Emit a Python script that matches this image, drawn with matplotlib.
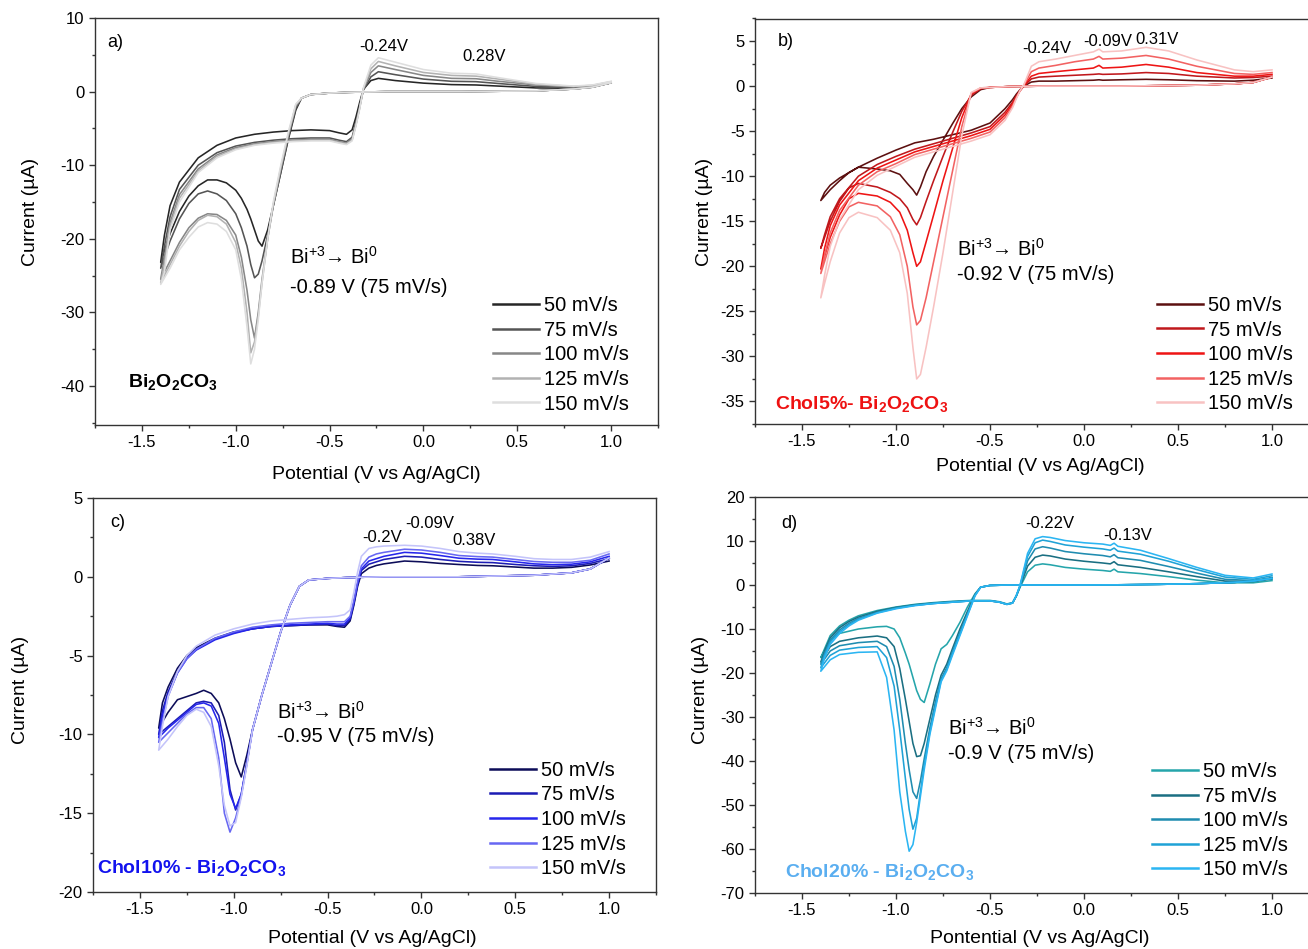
import matplotlib
matplotlib.use('Agg')
import matplotlib.pyplot as plt
from matplotlib.ticker import MultipleLocator
from matplotlib.lines import Line2D

plt.rcParams['font.family'] = ['Liberation Sans', 'DejaVu Sans']
plt.rcParams['mathtext.fontset'] = 'custom'
plt.rcParams['mathtext.rm'] = 'Liberation Sans'
plt.rcParams['mathtext.it'] = 'Liberation Sans:italic'
plt.rcParams['mathtext.bf'] = 'Liberation Sans:bold'

rate_labels = ['50 mV/s', '75 mV/s', '100 mV/s', '125 mV/s', '150 mV/s']

# ---------------- panel a : Bi2O2CO3 ----------------
a_E_fwd = [1.0, 0.9, 0.8, 0.6, 0.4, 0.2, 0.0, -0.2, -0.4, -0.5, -0.6, -0.65, -0.68, -0.72, -0.76, -0.80,
           -0.83, -0.86, -0.88, -0.90, -0.92, -0.94, -0.97, -1.0, -1.05, -1.1, -1.15, -1.2, -1.25, -1.3, -1.35, -1.4]
a_E_rev = [-1.38, -1.35, -1.3, -1.2, -1.1, -1.0, -0.9, -0.8, -0.7, -0.6, -0.5, -0.45, -0.41, -0.38, -0.36,
           -0.34, -0.32, -0.28, -0.24, -0.15, 0.0, 0.15, 0.28, 0.4, 0.6, 0.8, 0.9, 1.0]
a_base = [1.2, 0.6, 0.35, 0.1, 0.05, 0.0, 0.0, 0.0, -0.1, -0.2, -0.4, -0.9]
a_50_fwd = [-2.5, -6.5, -11.0, -15.5, -18.8, -21.0, -20.3, -18.8, -17.3, -16.0, -14.5, -13.4, -12.4, -12.0, -12.0, -12.8, -14.2, -16.3, -19.3, -23.2]
a_75_fwd = [-2.3, -6.3, -11.0, -15.5, -19.5, -23.0, -24.8, -25.3, -23.5, -21.0, -18.5, -16.6, -14.8, -13.9, -13.5, -13.9, -15.2, -17.3, -20.3, -24.0]
a_100_fwd = [-2.0, -6.0, -10.5, -15.5, -20.0, -25.5, -30.0, -33.5, -31.0, -27.0, -22.5, -19.5, -17.5, -16.7, -16.6, -17.2, -18.5, -20.5, -23.0, -25.5]
a_125_fwd = [-1.8, -5.8, -10.3, -15.3, -20.0, -26.0, -30.5, -34.0, -35.5, -30.0, -24.0, -20.5, -18.0, -17.0, -16.8, -17.5, -19.0, -21.0, -23.5, -26.0]
a_150_fwd = [-1.7, -5.5, -10.0, -15.0, -20.0, -26.0, -31.0, -35.0, -37.0, -32.0, -25.5, -21.5, -19.0, -18.0, -17.8, -18.4, -19.8, -21.5, -24.0, -26.2]
a_50_rev = [-19.5, -15.5, -12.3, -9.0, -7.3, -6.3, -5.8, -5.5, -5.3, -5.2, -5.3, -5.6, -5.8, -5.2, -3.5, -1.5, 0.3, 1.5, 1.8, 1.5, 1.15, 0.95, 0.9, 0.75, 0.5, 0.45, 0.65, 1.2]
a_75_rev = [-21.0, -17.0, -13.3, -10.0, -8.3, -7.4, -6.9, -6.6, -6.4, -6.3, -6.3, -6.6, -6.8, -6.2, -4.2, -2.0, 0.2, 2.0, 2.7, 2.3, 1.7, 1.4, 1.35, 1.1, 0.7, 0.55, 0.7, 1.2]
a_100_rev = [-22.5, -17.8, -14.0, -10.5, -8.6, -7.6, -7.1, -6.8, -6.6, -6.5, -6.5, -6.8, -7.0, -6.4, -4.5, -2.2, 0.3, 2.6, 3.5, 3.0, 2.2, 1.8, 1.75, 1.4, 0.9, 0.65, 0.8, 1.3]
a_125_rev = [-23.5, -18.3, -14.5, -10.8, -8.8, -7.8, -7.2, -6.9, -6.7, -6.6, -6.6, -6.9, -7.1, -6.6, -4.6, -2.3, 0.4, 3.1, 4.1, 3.5, 2.6, 2.2, 2.1, 1.7, 1.0, 0.7, 0.85, 1.35]
a_150_rev = [-24.5, -18.8, -15.0, -11.0, -9.0, -7.9, -7.3, -7.0, -6.8, -6.7, -6.7, -7.0, -7.2, -6.7, -4.7, -2.4, 0.5, 3.6, 4.6, 4.0, 3.0, 2.5, 2.4, 1.9, 1.1, 0.75, 0.9, 1.4]

# ---------------- panel b : Chol5% ----------------
b_E_fwd = [1.0, 0.9, 0.8, 0.6, 0.4, 0.2, 0.0, -0.2, -0.4, -0.5, -0.55, -0.6, -0.65, -0.7, -0.75, -0.8, -0.84,
           -0.87, -0.89, -0.91, -0.94, -0.98, -1.03, -1.1, -1.2, -1.25, -1.3, -1.35, -1.4]
b_E_rev = [-1.38, -1.35, -1.3, -1.2, -1.1, -1.0, -0.9, -0.8, -0.7, -0.6, -0.5, -0.42, -0.38, -0.36, -0.34, -0.32,
           -0.28, -0.24, -0.15, -0.05, 0.05, 0.08, 0.1, 0.2, 0.33, 0.45, 0.6, 0.8, 0.9, 1.0]
b_base = [1.0, 0.4, 0.25, 0.1, 0.05, 0.0, 0.0, 0.0, -0.05, -0.15]
b_50_fwd = [-0.4, -1.2, -2.5, -4.2, -6.0, -7.8, -9.5, -11.2, -12.1, -11.5, -10.8, -9.8, -9.4, -9.2, -9.0, -9.6, -10.5, -11.5, -12.7]
b_75_fwd = [-0.3, -1.0, -2.8, -5.2, -7.8, -10.5, -12.8, -14.6, -15.4, -14.8, -13.5, -12.5, -11.8, -11.2, -10.8, -11.3, -12.8, -15.0, -18.0]
b_100_fwd = [-0.25, -0.9, -3.5, -7.0, -10.5, -14.3, -17.3, -19.5, -20.0, -18.5, -16.0, -14.0, -12.9, -12.2, -11.9, -12.5, -14.3, -16.8, -20.3]
b_125_fwd = [-0.2, -0.8, -4.5, -9.5, -14.5, -19.5, -23.5, -26.0, -26.5, -24.5, -20.0, -16.5, -14.5, -13.3, -12.9, -13.4, -15.0, -17.5, -20.8]
b_150_fwd = [-0.2, -0.7, -5.5, -12.0, -18.5, -24.5, -29.0, -32.0, -32.5, -29.0, -23.0, -18.5, -16.0, -14.6, -14.0, -14.6, -16.3, -19.5, -23.5]
b_50_rev = [-11.8, -11.0, -10.2, -9.0, -8.0, -7.1, -6.3, -5.9, -5.4, -4.9, -4.1, -2.5, -1.5, -0.9, -0.4, 0.0,
            0.45, 0.55, 0.55, 0.6, 0.65, 0.7, 0.65, 0.7, 0.75, 0.7, 0.6, 0.55, 0.65, 0.9]
b_75_rev = [-16.5, -14.5, -12.5, -10.0, -8.7, -7.8, -7.0, -6.4, -5.8, -5.2, -4.5, -2.9, -1.8, -1.1, -0.5, 0.0,
            0.8, 1.0, 1.1, 1.2, 1.3, 1.35, 1.3, 1.35, 1.5, 1.4, 1.1, 0.9, 0.95, 1.1]
b_100_rev = [-18.0, -15.5, -13.2, -10.5, -9.1, -8.2, -7.3, -6.7, -6.1, -5.5, -4.8, -3.2, -2.0, -1.2, -0.5, 0.05,
             1.1, 1.4, 1.6, 1.8, 2.0, 2.3, 2.0, 2.1, 2.4, 2.1, 1.5, 1.1, 1.1, 1.3]
b_125_rev = [-18.8, -16.3, -13.8, -11.0, -9.5, -8.6, -7.6, -7.0, -6.4, -5.8, -5.1, -3.5, -2.2, -1.3, -0.5, 0.1,
             1.6, 2.0, 2.3, 2.7, 3.0, 3.3, 3.0, 3.1, 3.4, 3.0, 2.2, 1.4, 1.3, 1.5]
b_150_rev = [-21.0, -17.8, -14.8, -11.5, -9.9, -8.9, -7.9, -7.3, -6.7, -6.1, -5.4, -3.8, -2.4, -1.4, -0.5, 0.15,
             2.2, 2.7, 3.0, 3.4, 3.8, 4.1, 3.8, 3.9, 4.3, 3.9, 2.9, 1.8, 1.6, 1.8]

# ---------------- panel c : Chol10% ----------------
c_E_fwd = [1.0, 0.9, 0.8, 0.6, 0.4, 0.2, 0.0, -0.2, -0.4, -0.5, -0.6, -0.65, -0.7, -0.75, -0.8, -0.85, -0.9,
           -0.93, -0.96, -0.99, -1.02, -1.05, -1.08, -1.12, -1.16, -1.2, -1.25, -1.3, -1.35, -1.4]
c_E_rev = [-1.38, -1.35, -1.3, -1.25, -1.2, -1.1, -1.0, -0.9, -0.8, -0.7, -0.6, -0.5, -0.45, -0.41, -0.38, -0.36,
           -0.34, -0.32, -0.28, -0.24, -0.2, -0.09, 0.0, 0.1, 0.2, 0.3, 0.38, 0.5, 0.6, 0.7, 0.8, 0.9, 1.0]
c_base = [1.2, 0.5, 0.25, 0.1, 0.05, 0.0, 0.0, 0.0, -0.05, -0.1, -0.2, -0.6, -1.8, -3.5, -5.5, -7.5, -9.7]
c_50_fwd = [-11.3, -12.7, -11.8, -10.3, -9.0, -8.0, -7.4, -7.2, -7.4, -7.6, -7.8, -8.6, -9.6]
c_75_fwd = [-11.8, -13.8, -14.8, -13.5, -10.5, -8.8, -8.0, -7.9, -8.0, -8.5, -9.0, -9.5, -10.0]
c_100_fwd = [-11.8, -13.8, -14.7, -13.8, -11.5, -9.3, -8.2, -8.0, -8.1, -8.6, -9.1, -9.6, -10.2]
c_125_fwd = [-11.9, -13.9, -15.3, -16.2, -15.0, -11.5, -9.0, -8.3, -8.3, -8.7, -9.3, -9.9, -10.5]
c_150_fwd = [-12.0, -14.0, -15.6, -15.8, -14.5, -12.0, -9.5, -8.6, -8.4, -8.8, -9.5, -10.3, -11.0]
c_50_rev = [-8.0, -7.0, -5.8, -5.0, -4.5, -3.9, -3.5, -3.3, -3.15, -3.1, -3.05, -3.05, -3.15, -3.2, -2.8, -1.8, -0.6,
            0.2, 0.55, 0.72, 0.82, 1.0, 0.95, 0.85, 0.78, 0.72, 0.7, 0.62, 0.55, 0.55, 0.6, 0.75, 1.0]
c_75_rev = [-8.5, -7.3, -6.0, -5.1, -4.6, -3.95, -3.55, -3.3, -3.15, -3.1, -3.05, -3.0, -3.1, -3.1, -2.7, -1.7, -0.5,
            0.4, 0.8, 0.95, 1.1, 1.3, 1.25, 1.1, 0.98, 0.92, 0.9, 0.78, 0.7, 0.66, 0.7, 0.85, 1.15]
c_100_rev = [-8.8, -7.5, -6.1, -5.2, -4.65, -4.0, -3.6, -3.3, -3.15, -3.05, -3.0, -2.95, -3.0, -3.0, -2.6, -1.6, -0.4,
             0.5, 1.0, 1.15, 1.3, 1.55, 1.5, 1.35, 1.18, 1.12, 1.1, 0.95, 0.82, 0.77, 0.8, 0.95, 1.3]
c_125_rev = [-9.2, -7.6, -6.1, -5.2, -4.6, -3.9, -3.5, -3.2, -3.05, -2.95, -2.9, -2.85, -2.85, -2.85, -2.5, -1.5, -0.3,
             0.7, 1.25, 1.45, 1.55, 1.75, 1.7, 1.55, 1.35, 1.28, 1.25, 1.1, 0.97, 0.92, 0.92, 1.05, 1.45]
c_150_rev = [-9.5, -7.6, -6.0, -5.0, -4.4, -3.7, -3.3, -3.0, -2.8, -2.7, -2.6, -2.55, -2.5, -2.4, -2.1, -1.0, 0.3,
             1.3, 1.8, 1.9, 1.95, 2.0, 1.95, 1.8, 1.6, 1.5, 1.45, 1.3, 1.15, 1.1, 1.1, 1.25, 1.6]

# ---------------- panel d : Chol20% ----------------
d_E_fwd = [1.0, 0.9, 0.8, 0.6, 0.4, 0.2, 0.0, -0.2, -0.4, -0.5, -0.55, -0.58, -0.62, -0.66, -0.7, -0.73, -0.76,
           -0.79, -0.82, -0.85, -0.87, -0.89, -0.91, -0.93, -0.95, -0.98, -1.01, -1.05, -1.1, -1.2, -1.3, -1.35, -1.4]
d_E_rev = [-1.38, -1.35, -1.3, -1.25, -1.2, -1.1, -1.0, -0.9, -0.8, -0.7, -0.6, -0.5, -0.45, -0.41, -0.38, -0.36,
           -0.34, -0.3, -0.26, -0.22, -0.18, -0.1, 0.0, 0.1, 0.14, 0.16, 0.18, 0.3, 0.45, 0.6, 0.75, 0.9, 1.0]
d_base = [1.5, 0.9, 0.6, 0.3, 0.15, 0.05, 0.0, 0.0, 0.0, -0.1]
d_50_fwd = [-0.5, -2.0, -5.0, -8.5, -11.5, -13.5, -14.5, -18.0, -22.5, -26.7, -26.0, -24.0, -21.0, -18.0, -15.5,
            -12.0, -10.0, -9.4, -9.5, -10.0, -11.0, -12.5, -16.5]
d_75_fwd = [-0.5, -2.2, -6.0, -10.0, -14.5, -18.0, -20.5, -25.0, -30.5, -36.0, -38.8, -39.0, -36.0, -31.0, -26.0,
            -19.0, -14.0, -12.0, -11.6, -12.0, -12.8, -14.0, -17.5]
d_100_fwd = [-0.5, -2.3, -6.5, -10.8, -15.2, -18.8, -21.3, -26.5, -32.5, -39.5, -44.5, -48.5, -47.0, -42.0, -36.0,
             -26.0, -18.5, -14.0, -12.8, -13.1, -13.8, -15.0, -18.0]
d_125_fwd = [-0.5, -2.4, -6.8, -11.2, -15.6, -19.2, -21.7, -27.5, -33.5, -41.0, -47.0, -53.0, -55.5, -51.0, -44.0,
             -33.0, -23.0, -16.5, -14.0, -14.2, -14.8, -16.0, -18.8]
d_150_fwd = [-0.5, -2.5, -7.0, -11.5, -16.0, -19.5, -22.0, -28.0, -34.0, -42.0, -48.0, -54.0, -59.0, -60.5, -56.0,
             -47.0, -33.0, -21.0, -15.2, -15.3, -15.8, -17.0, -19.6]
d_50_rev = [-14.5, -11.5, -9.3, -8.0, -7.0, -5.8, -5.0, -4.4, -4.0, -3.7, -3.5, -3.5, -3.8, -4.3, -4.0, -2.5,
            -0.5, 3.0, 4.5, 4.8, 4.6, 4.0, 3.6, 3.3, 3.1, 3.6, 3.0, 2.6, 1.9, 1.1, 0.5, 0.5, 1.0]
d_75_rev = [-15.0, -12.0, -9.7, -8.3, -7.3, -6.0, -5.1, -4.5, -4.1, -3.8, -3.6, -3.6, -3.9, -4.4, -4.1, -2.5,
            -0.3, 4.3, 6.3, 6.8, 6.6, 5.9, 5.4, 5.0, 4.8, 5.3, 4.6, 4.0, 3.0, 1.9, 0.9, 0.8, 1.4]
d_100_rev = [-15.5, -12.5, -10.2, -8.7, -7.6, -6.2, -5.2, -4.6, -4.2, -3.9, -3.6, -3.6, -3.9, -4.4, -4.1, -2.5,
             -0.2, 5.5, 8.2, 8.7, 8.4, 7.6, 7.1, 6.7, 6.4, 6.9, 6.2, 5.6, 4.2, 2.7, 1.3, 1.0, 1.7]
d_125_rev = [-16.0, -13.0, -10.6, -9.0, -7.8, -6.3, -5.3, -4.6, -4.2, -3.9, -3.6, -3.6, -3.9, -4.4, -4.1, -2.4,
             -0.1, 6.5, 9.6, 10.2, 9.9, 9.1, 8.6, 8.2, 7.9, 8.4, 7.7, 7.0, 5.4, 3.5, 1.8, 1.3, 2.1]
d_150_rev = [-16.5, -13.5, -11.0, -9.3, -8.0, -6.4, -5.4, -4.7, -4.2, -3.9, -3.6, -3.6, -3.9, -4.4, -4.1, -2.4,
             0.0, 7.2, 10.5, 11.0, 10.8, 10.1, 9.6, 9.3, 9.0, 9.5, 8.8, 7.9, 6.0, 4.0, 2.2, 1.6, 2.5]

# ---------------- colours ----------------
a_colors = ['#262626', '#555555', '#878787', '#b2b2b2', '#dedede']
b_colors = ['#5c1010', '#c0181c', '#ee1414', '#f26262', '#f8c2c2']
c_colors = ['#0c0c58', '#1c1cb4', '#2626ec', '#6767f2', '#c4c4fa']
d_colors = ['#25a5ab', '#1a6f82', '#1f8cb0', '#1fa2d6', '#2bb5f2']

W, H = 1308, 949
fig = plt.figure(figsize=(W / 100, H / 100), dpi=100)


def add_axes(left, right, top, bottom):
    return fig.add_axes([left / W, 1 - bottom / H, (right - left) / W, (bottom - top) / H])


ax_a = add_axes(95, 658, 18, 425)
ax_b = add_axes(755, 1319, 18.5, 424)
ax_c = add_axes(93, 656, 498, 892)
ax_d = add_axes(755, 1319, 497, 893)

panels = [
    (ax_a, a_E_fwd, a_E_rev, a_base,
     [a_50_fwd, a_75_fwd, a_100_fwd, a_125_fwd, a_150_fwd],
     [a_50_rev, a_75_rev, a_100_rev, a_125_rev, a_150_rev], a_colors),
    (ax_b, b_E_fwd, b_E_rev, b_base,
     [b_50_fwd, b_75_fwd, b_100_fwd, b_125_fwd, b_150_fwd],
     [b_50_rev, b_75_rev, b_100_rev, b_125_rev, b_150_rev], b_colors),
    (ax_c, c_E_fwd, c_E_rev, c_base,
     [c_50_fwd, c_75_fwd, c_100_fwd, c_125_fwd, c_150_fwd],
     [c_50_rev, c_75_rev, c_100_rev, c_125_rev, c_150_rev], c_colors),
    (ax_d, d_E_fwd, d_E_rev, d_base,
     [d_50_fwd, d_75_fwd, d_100_fwd, d_125_fwd, d_150_fwd],
     [d_50_rev, d_75_rev, d_100_rev, d_125_rev, d_150_rev], d_colors),
]

for ax, Ef, Er, base, fwds, revs, cols in panels:
    E = Ef + Er
    for fw, rv, col in zip(fwds, revs, cols):
        ax.plot(E, base + fw + rv, color=col, lw=1.15, solid_joinstyle='round')

# axes styling
ylims = [(-45.3, 10), (-37.5, 7.5), (-20, 5), (-70, 20)]
ymaj = [10, 5, 5, 10]
ymin = [5, 2.5, 2.5, 5]
for ax, yl, mj, mn in zip([ax_a, ax_b, ax_c, ax_d], ylims, ymaj, ymin):
    ax.set_xlim(-1.75, 1.25)
    ax.set_ylim(*yl)
    ax.xaxis.set_major_locator(MultipleLocator(0.5))
    ax.xaxis.set_minor_locator(MultipleLocator(0.25))
    ax.yaxis.set_major_locator(MultipleLocator(mj))
    ax.yaxis.set_minor_locator(MultipleLocator(mn))
    ax.tick_params(which='both', direction='out', top=False, right=False, labelsize=12,
                   color='#333333', width=1.0)
    ax.tick_params(which='major', length=4.5, pad=3)
    ax.tick_params(which='minor', length=2.5)
    for s in ax.spines.values():
        s.set_color('#333333')
        s.set_linewidth(1.0)
    ax.xaxis.set_major_formatter(plt.FuncFormatter(lambda v, p: '%.1f' % v))
    ax.yaxis.set_major_formatter(plt.FuncFormatter(lambda v, p: '%g' % v))

ax_a.set_xlabel('Potential (V vs Ag/AgCl)', fontsize=14)
ax_b.set_xlabel('Potential (V vs Ag/AgCl)', fontsize=14)
ax_c.set_xlabel('Potential (V vs Ag/AgCl)', fontsize=14)
ax_d.set_xlabel('Pontential (V vs Ag/AgCl)', fontsize=14)
for ax in [ax_a, ax_b, ax_c, ax_d]:
    ax.set_ylabel('Current (µA)', fontsize=14)

ax_a.xaxis.set_label_coords(0.499, -0.101)
ax_b.xaxis.set_label_coords(0.505, -0.084)
ax_c.xaxis.set_label_coords(0.496, -0.096)
ax_d.xaxis.set_label_coords(0.505, -0.093)
ax_a.yaxis.set_label_coords(-0.0995, 0.523)
ax_b.yaxis.set_label_coords(-0.0745, 0.523)
ax_c.yaxis.set_label_coords(-0.114, 0.513)
ax_d.yaxis.set_label_coords(-0.0816, 0.513)

# legends
leg_pos = [(ax_a, a_colors, 0.707, 0.317), (ax_b, b_colors, 0.713, 0.316),
           (ax_c, c_colors, 0.705, 0.333), (ax_d, d_colors, 0.704, 0.331)]
for ax, cols, lx, ly in leg_pos:
    handles = [Line2D([], [], color=c, lw=1.8) for c in cols]
    ax.legend(handles, rate_labels, loc='upper left', bbox_to_anchor=(lx, ly), frameon=False,
              fontsize=14.5, handlelength=2.3, handletextpad=0.25, labelspacing=0.28,
              borderpad=0, borderaxespad=0)

arrow_txt = 'Bi$^{+3}$\u2192 Bi$^{0}$'

# panel a texts
ax_a.text(0.021, 0.941, 'a)', transform=ax_a.transAxes, fontsize=13, va='center')
ax_a.text(-0.213, 6.1, '-0.24V', fontsize=12, ha='center', va='center')
ax_a.text(0.324, 4.8, '0.28V', fontsize=12, ha='center', va='center')
ax_a.text(-0.713, -22.5, arrow_txt, fontsize=14.5, va='center')
ax_a.text(-0.713, -26.6, '-0.89 V (75 mV/s)', fontsize=14.5, va='center')
ax_a.text(-1.574, -39.5, r'$\mathbf{Bi_2O_2CO_3}$', fontsize=14, va='center', color='black')

# panel b texts
ax_b.text(0.04, 0.943, 'b)', transform=ax_b.transAxes, fontsize=13, va='center')
ax_b.text(-0.20, 4.2, '-0.24V', fontsize=12, ha='center', va='center')
ax_b.text(0.128, 5.0, '-0.09V', fontsize=12, ha='center', va='center')
ax_b.text(0.39, 5.2, '0.31V', fontsize=12, ha='center', va='center')
ax_b.text(-0.675, -18.1, arrow_txt, fontsize=14.5, va='center')
ax_b.text(-0.675, -20.9, '-0.92 V (75 mV/s)', fontsize=14.5, va='center')
ax_b.text(-1.645, -35.3, r'Chol5%- Bi$_\mathbf{2}$O$_\mathbf{2}$CO$_\mathbf{3}$', fontsize=14,
          fontweight='bold', va='center', color='#ee1111')

# panel c texts
ax_c.text(0.03, 0.937, 'c)', transform=ax_c.transAxes, fontsize=13, va='center')
ax_c.text(-0.208, 2.48, '-0.2V', fontsize=12, ha='center', va='center')
ax_c.text(0.043, 3.37, '-0.09V', fontsize=12, ha='center', va='center')
ax_c.text(0.283, 2.29, '0.38V', fontsize=12, ha='center', va='center')
ax_c.text(-0.77, -8.57, arrow_txt, fontsize=14.5, va='center')
ax_c.text(-0.77, -10.16, '-0.95 V (75 mV/s)', fontsize=14.5, va='center')
ax_c.text(-1.729, -18.5, r'Chol10% - Bi$_\mathbf{2}$O$_\mathbf{2}$CO$_\mathbf{3}$', fontsize=14,
          fontweight='bold', va='center', color='#1212ee')

# panel d texts
ax_d.text(0.046, 0.934, 'd)', transform=ax_d.transAxes, fontsize=13, va='center')
ax_d.text(-0.18, 13.9, '-0.22V', fontsize=12, ha='center', va='center')
ax_d.text(0.23, 11.2, '-0.13V', fontsize=12, ha='center', va='center')
ax_d.text(-0.722, -32.4, arrow_txt, fontsize=14.5, va='center')
ax_d.text(-0.722, -38.3, '-0.9 V (75 mV/s)', fontsize=14.5, va='center')
ax_d.text(-1.59, -65.2, r'Chol20% - Bi$_\mathbf{2}$O$_\mathbf{2}$CO$_\mathbf{3}$', fontsize=14,
          fontweight='bold', va='center', color='#5aaef0')

fig.savefig('out.png', dpi=100)
